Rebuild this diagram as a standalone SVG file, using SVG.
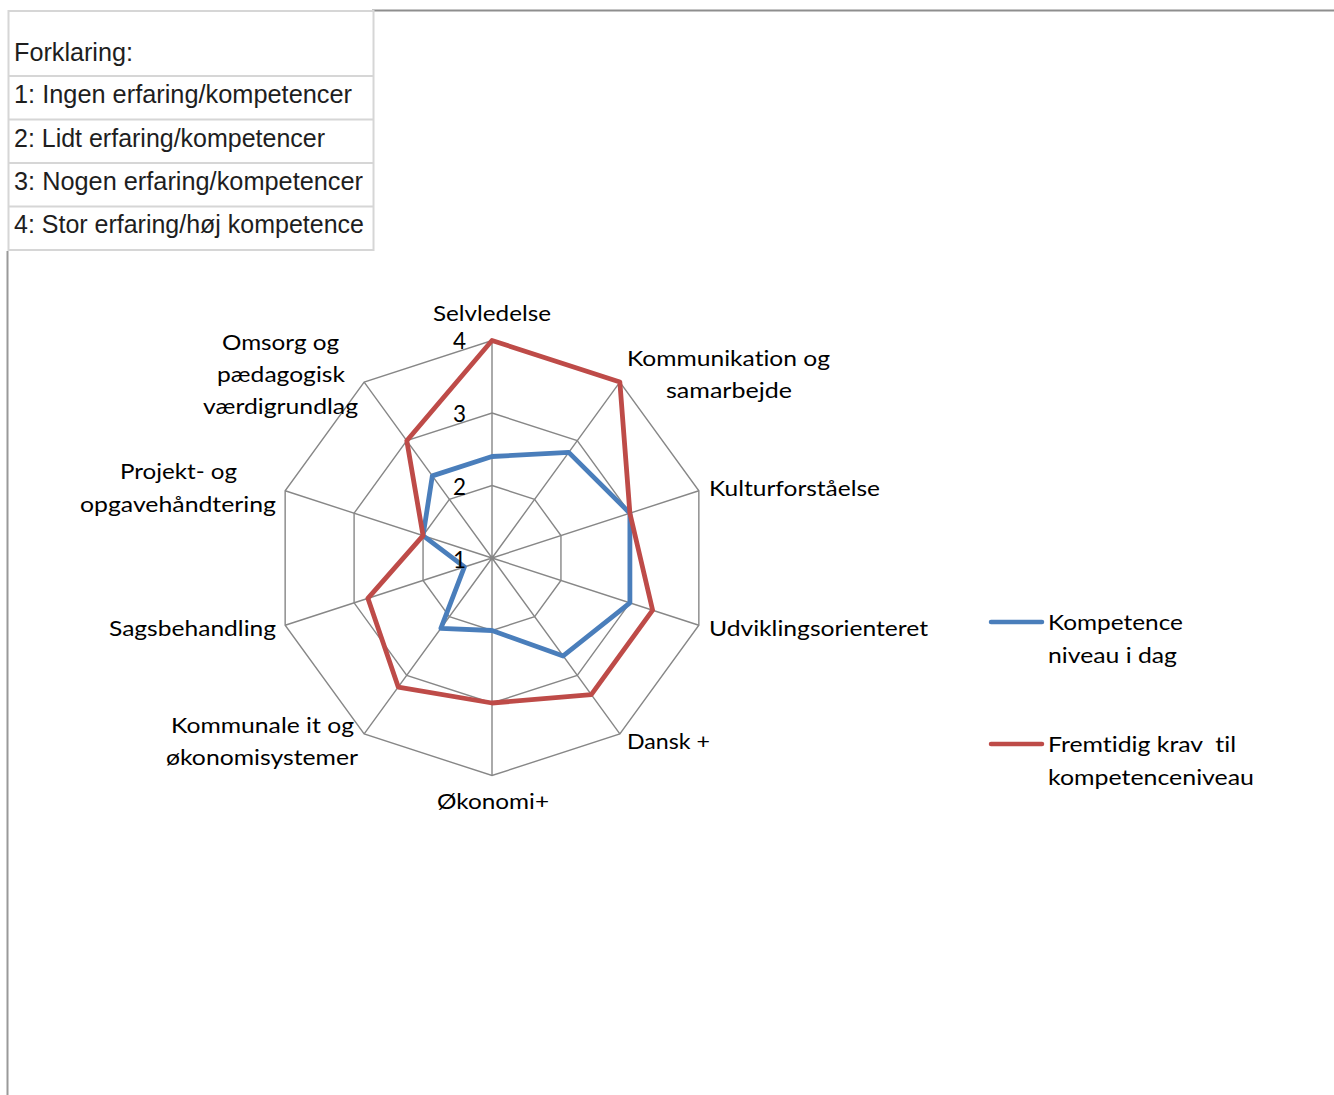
<svg xmlns="http://www.w3.org/2000/svg" width="1334" height="1095" viewBox="0 0 1334 1095">
<style>
.tbl{fill:none;stroke:#d6d6d6;stroke-width:2}
.tt{font-family:"Liberation Sans",Arial,sans-serif;font-size:26px;fill:#1e1e1e}
.grid{fill:none;stroke:#878787;stroke-width:1.4}
.lbl{font-family:Lato,"Liberation Sans",sans-serif;font-size:21.5px;fill:#000;font-variant-ligatures:none}
.tick{font-size:22.5px}
.blue{fill:none;stroke:#4a7ebb;stroke-width:4.8;stroke-linejoin:round}
.red{fill:none;stroke:#be4b48;stroke-width:4.8;stroke-linejoin:round}
</style>
<rect width="1334" height="1095" fill="#fff"/>
<g id="frame">
<line x1="372" y1="10.5" x2="1334" y2="10.5" stroke="#8e8e8e" stroke-width="2"/>
<line x1="7.5" y1="251" x2="7.5" y2="1095" stroke="#9a9a9a" stroke-width="2"/>
</g>
<g id="legend-table">
<rect class="tbl" x="8.5" y="11" width="365" height="239"/>
<line class="tbl" x1="8.5" y1="76" x2="373.5" y2="76"/>
<line class="tbl" x1="8.5" y1="119.5" x2="373.5" y2="119.5"/>
<line class="tbl" x1="8.5" y1="163" x2="373.5" y2="163"/>
<line class="tbl" x1="8.5" y1="206.5" x2="373.5" y2="206.5"/>
<text class="tt" x="14" y="61" textLength="119" lengthAdjust="spacingAndGlyphs">Forklaring:</text>
<text class="tt" x="14" y="103" textLength="338" lengthAdjust="spacingAndGlyphs">1: Ingen erfaring/kompetencer</text>
<text class="tt" x="14" y="147" textLength="311" lengthAdjust="spacingAndGlyphs">2: Lidt erfaring/kompetencer</text>
<text class="tt" x="14" y="190" textLength="349" lengthAdjust="spacingAndGlyphs">3: Nogen erfaring/kompetencer</text>
<text class="tt" x="14" y="233" textLength="350" lengthAdjust="spacingAndGlyphs">4: Stor erfaring/høj kompetence</text>
</g>
<g id="grid">
<polygon class="grid" points="492,485.5 534.61,499.35 560.95,535.6 560.95,580.4 534.61,616.65 492,630.5 449.39,616.65 423.05,580.4 423.05,535.6 449.39,499.35"/>
<polygon class="grid" points="492,413 577.23,440.69 629.9,513.19 629.9,602.81 577.23,675.31 492,703 406.77,675.31 354.1,602.81 354.1,513.19 406.77,440.69"/>
<polygon class="grid" points="492,340.5 619.84,382.04 698.85,490.79 698.85,625.21 619.84,733.96 492,775.5 364.16,733.96 285.15,625.21 285.15,490.79 364.16,382.04"/>
<path class="grid" d="M492,558L492,340.5M492,558L619.84,382.04M492,558L698.85,490.79M492,558L698.85,625.21M492,558L619.84,733.96M492,558L492,775.5M492,558L364.16,733.96M492,558L285.15,625.21M492,558L285.15,490.79M492,558L364.16,382.04"/>
</g>
<g id="series">
<polygon id="series-blue" class="blue" points="492,456.5 568.71,452.42 629.9,513.19 629.9,602.81 563.18,655.97 492,630.5 440.86,628.38 464.42,566.96 423.05,535.6 432.34,475.89"/>
<polygon id="series-red" class="red" points="492,340.5 619.84,382.04 629.9,513.19 652.63,610.19 591.28,694.64 492,703 398.25,687.04 367.89,598.33 423.05,535.6 406.77,440.69"/>
</g>
<g id="ticks" class="lbl tick" text-anchor="end">
<text x="466" y="349">4</text>
<text x="466" y="422">3</text>
<text x="466" y="495">2</text>
<text x="466" y="568">1</text>
</g>
<g id="axis-labels" class="lbl">
<text id="lbl-selvledelse" x="433" y="321" textLength="118" lengthAdjust="spacingAndGlyphs">Selvledelse</text>
<text id="lbl-kommunikation" x="627" y="366" textLength="203" lengthAdjust="spacingAndGlyphs">Kommunikation og</text>
<text x="666" y="398" textLength="126" lengthAdjust="spacingAndGlyphs">samarbejde</text>
<text id="lbl-kultur" x="709" y="496" textLength="171" lengthAdjust="spacingAndGlyphs">Kulturforståelse</text>
<text id="lbl-udvikling" x="709" y="636" textLength="219" lengthAdjust="spacingAndGlyphs">Udviklingsorienteret</text>
<text id="lbl-dansk" x="627" y="749" textLength="83" lengthAdjust="spacingAndGlyphs">Dansk +</text>
<text id="lbl-okonomi" x="437" y="809" textLength="112" lengthAdjust="spacingAndGlyphs">Økonomi+</text>
<text id="lbl-kommunale" x="171" y="733" textLength="183" lengthAdjust="spacingAndGlyphs">Kommunale it og</text>
<text x="166" y="765" textLength="192" lengthAdjust="spacingAndGlyphs">økonomisystemer</text>
<text id="lbl-sags" x="109" y="636" textLength="167" lengthAdjust="spacingAndGlyphs">Sagsbehandling</text>
<text id="lbl-projekt" x="120" y="479" textLength="117" lengthAdjust="spacingAndGlyphs">Projekt- og</text>
<text x="80" y="512" textLength="196" lengthAdjust="spacingAndGlyphs">opgavehåndtering</text>
<text id="lbl-omsorg" x="222" y="350" textLength="117" lengthAdjust="spacingAndGlyphs">Omsorg og</text>
<text x="217" y="382" textLength="128" lengthAdjust="spacingAndGlyphs">pædagogisk</text>
<text x="203" y="414" textLength="155" lengthAdjust="spacingAndGlyphs">værdigrundlag</text>
</g>
<g id="legend" class="lbl">
<line x1="991" y1="622" x2="1042" y2="622" stroke="#4a7ebb" stroke-width="4.5" stroke-linecap="round"/>
<text x="1048" y="630" textLength="135" lengthAdjust="spacingAndGlyphs">Kompetence</text>
<text x="1048" y="663" textLength="129" lengthAdjust="spacingAndGlyphs">niveau i dag</text>
<line x1="991" y1="744" x2="1042" y2="744" stroke="#be4b48" stroke-width="4.5" stroke-linecap="round"/>
<text x="1048" y="752" textLength="188" lengthAdjust="spacingAndGlyphs" xml:space="preserve">Fremtidig krav  til</text>
<text x="1048" y="785" textLength="206" lengthAdjust="spacingAndGlyphs">kompetenceniveau</text>
</g>
</svg>
